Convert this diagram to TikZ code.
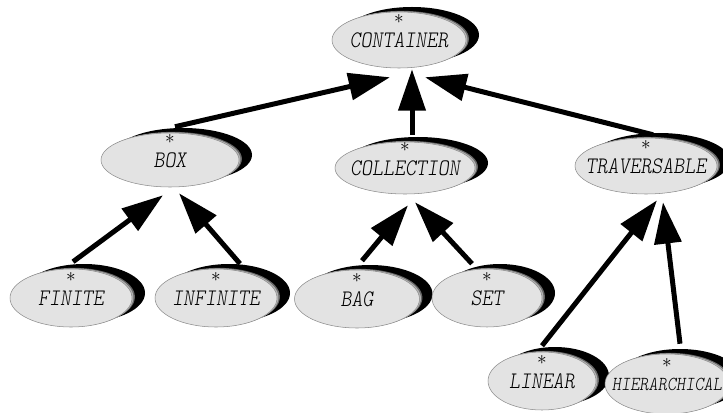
\documentclass[tikz,border=0pt]{standalone}
\usepackage{fontspec}
\newfontfamily\clsfont[FakeStretch=0.88, ItalicFont=lmmonolt10-oblique.otf]{lmmonolt10-regular.otf}
\usetikzlibrary{shapes.geometric,shadows,arrows.meta}

\tikzset{
  cls/.style={ellipse, draw=black!45, fill=black!11, thin,
    inner xsep=-20pt, inner ysep=0pt, minimum height=43.5pt,
    font=\fontsize{17.8}{18}\selectfont\clsfont\itshape,
    general shadow={shadow xshift=9.75pt, shadow yshift=3.75pt, fill=black},
    general shadow={shadow xshift=2.2pt, shadow yshift=0.85pt, fill=black!60},
    general shadow={shadow xshift=1.1pt, shadow yshift=0.4pt, fill=black!30},
    label={[font=\Large, yshift=15.5pt]center:$\ast$}},
  isa/.style={line width=3.75pt, -{Triangle[length=31pt,width=20pt]}},
}

\begin{document}
\begin{tikzpicture}[x=0.75pt, y=-0.75pt]
\useasboundingbox (0,0) rectangle (723,413);

% top level
\node[cls, minimum width=100.5pt, minimum height=42pt] (container) at (399,40) {CONTAINER};

% second level
\node[cls, minimum width=103.5pt, minimum height=40.5pt] (box) at (170,160) {BOX};
\node[cls, minimum width=105pt, minimum height=39pt] (collection) at (405,168) {COLLECTION};
\node[cls, minimum width=106.5pt, minimum height=42pt] (traversable) at (646,166) {TRAVERSABLE};

% leaves
\node[cls, minimum width=91.5pt] (finite) at (71,298) {FINITE};
\node[cls, minimum width=91.5pt] (infinite) at (216,298) {INFINITE};
\node[cls, minimum width=93.75pt] (bag) at (357,299) {BAG};
\node[cls, minimum width=82.5pt] (set) at (487,298) {SET};
\node[cls, minimum width=81pt] (linear) at (542,381) {LINEAR};
\node[cls, minimum width=93pt, minimum height=45pt, font=\fontsize{14.9}{15}\selectfont\clsfont\itshape] (hierarchical) at (667,384) {HIERARCHICAL};

% is-a arrows, child to parent
\draw[isa] ([shift={(5,-6)}]box.north) -- ([shift={(-9,9)}]container.south);
\draw[isa] ([shift={(7,-7)}]collection.north) -- ([shift={(13,1)}]container.south);
\draw[isa] ([shift={(7,-3)}]traversable.north) -- ([shift={(26,9)}]container.south);

\draw[isa] ([shift={(2,-7)}]finite.north) -- ([shift={(-7,8)}]box.south);
\draw[isa] ([shift={(24,-5)}]infinite.north) -- ([shift={(9,6)}]box.south);

\draw[isa] ([shift={(5,-9)}]bag.north) -- ([shift={(3,11)}]collection.south);
\draw[isa] ([shift={(-15,-5)}]set.north) -- ([shift={(10,8)}]collection.south);

\draw[isa] ([shift={(0,-6)}]linear.north) -- ([shift={(11,6)}]traversable.south);
\draw[isa] ([shift={(13,-10)}]hierarchical.north) -- ([shift={(17,8)}]traversable.south);
\end{tikzpicture}
\end{document}
